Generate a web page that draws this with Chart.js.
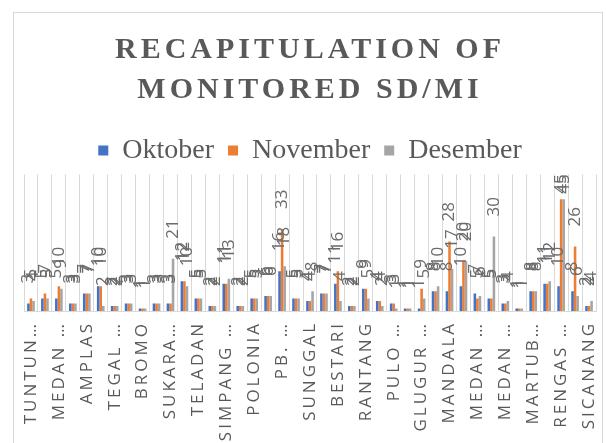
<html>

<head>
    <title>Recapitulation of monitored SD/MI</title>
    <script src="https://cdnjs.cloudflare.com/ajax/libs/Chart.js/4.4.1/chart.umd.min.js"></script>
    <style>
        body { margin: 0; overflow: hidden; background: #fff; }
        #frame { position: absolute; left: 13px; top: 12px; width: 588px; height: 480px; border: 1px solid #d9d9d9; }
        #chart { position: absolute; left: 0; top: 0; }
    </style>
</head>

<body>
    <div id="frame"></div>
    <canvas id="chart" width="606" height="443"></canvas>
    <script>
        // puskesmas names (only every other one is shown on the axis)
        const puskesmas = [
            "TUNTUNGAN", "SIMALINGKAR", "MEDAN JOHOR", "KEDAI DURIAN", "AMPLAS",
            "DESA BINJAI", "TEGAL SARI", "MEDAN DENAI", "BROMO", "KOTA MATSUM",
            "SUKARAMAI", "AREA SELATAN", "TELADAN", "PASAR MERAH", "SIMPANG LIMUN",
            "SUKARAJA", "POLONIA", "PADANG BULAN", "PB. SELAYANG", "DESA LALANG",
            "SUNGGAL", "HELVETIA", "BESTARI", "DARUSSALAM", "RANTANG",
            "PETISAH", "PULO BRAYAN", "SEI AGUL", "GLUGUR DARAT", "SENTOSA BARU",
            "MANDALA", "TEMBUNG", "MEDAN DELI", "TITI PAPAN", "MEDAN LABUHAN",
            "PEKAN LABUHAN", "MARTUBUNG", "TERJUN", "RENGAS PULAU", "BELAWAN",
            "SICANANG"
        ];
        const oktober  = [3, 5, 5, 3, 7, 10, 2, 3, 1, 3, 3, 12, 5, 2, 11, 2, 5, 6, 16, 5, 4, 7, 11, 2, 9, 4, 3, 1, 1, 8, 8, 10, 7, 5, 3, 1, 8, 11, 10, 8, 2];
        const november = [5, 7, 10, 3, 7, 10, 2, 3, 1, 3, 3, 12, 5, 2, 11, 2, 5, 6, 33, 5, 4, 7, 16, 2, 9, 4, 3, 1, 9, 8, 28, 20, 5, 5, 3, 1, 8, 11, 45, 26, 2];
        const desember = [4, 5, 9, 3, 7, 2, 2, 3, 1, 3, 21, 10, 5, 2, 13, 2, 5, 6, 18, 5, 8, 7, 4, 2, 5, 2, 1, 1, 5, 10, 17, 20, 6, 30, 4, 1, 8, 12, 45, 6, 4];
        const titleLines = ["RECAPITULATION OF", "MONITORED SD/MI"];

        const grey = '#595959';
        const serif = '"Liberation Serif", "Times New Roman", Times, serif';
        const sans = '"Open Sans", "Noto Sans", sans-serif';

        // shorten long names the way the axis shows them
        function shortName(name) {
            if (name.length <= 8) return name;
            if (name.indexOf(' ') > 0) return name.split(' ')[0] + ' \u2026';
            return name.slice(0, 6) + '\u2026';
        }

        function withSpacing(obj, method, px) {
            const orig = obj[method];
            obj[method] = function () {
                const ctx = this.ctx;
                const old = ctx.letterSpacing;
                ctx.letterSpacing = px;
                const r = orig.apply(this, arguments);
                ctx.letterSpacing = old;
                return r;
            };
        }

        const spacingPlugin = {
            id: 'spacing',
            afterLayout(chart) {
                if (chart._spaced) return;
                chart._spaced = true;
                withSpacing(chart.titleBlock, 'draw', '4px');
                withSpacing(chart.scales.x, 'drawLabels', '3px');
            }
        };

        // rotated value labels above the bars
        const valueLabels = {
            id: 'valueLabels',
            afterDatasetsDraw(chart) {
                const ctx = chart.ctx;
                ctx.save();
                ctx.font = '17px ' + sans;
                ctx.fillStyle = '#6b6b6b';
                ctx.textAlign = 'left';
                ctx.textBaseline = 'middle';
                chart.data.datasets.forEach(function (ds, i) {
                    chart.getDatasetMeta(i).data.forEach(function (bar, j) {
                        const txt = String(ds.data[j]);
                        const w = ctx.measureText(txt).width;
                        let y = bar.y - 20;
                        if (y - w < chart.chartArea.top) y = chart.chartArea.top + w;
                        ctx.save();
                        ctx.translate(bar.x, y);
                        ctx.rotate(-Math.PI / 2);
                        ctx.fillText(txt, 0, 0);
                        ctx.restore();
                    });
                });
                ctx.restore();
            }
        };

        function draw() {
            let ctx = document.getElementById('chart').getContext('2d');
            new Chart(ctx, {
                type: 'bar',
                data: {
                    labels: puskesmas,
                    datasets: [{
                        label: "Oktober",
                        backgroundColor: '#4472C4',
                        data: oktober
                    }, {
                        label: "November",
                        backgroundColor: '#ED7D31',
                        data: november
                    }, {
                        label: "Desember",
                        backgroundColor: '#A5A5A5',
                        data: desember
                    }]
                },
                options: {
                    animation: false,
                    responsive: false,
                    events: [],
                    layout: {
                        padding: { left: 24, right: 10, top: 0, bottom: 0 }
                    },
                    datasets: {
                        bar: {
                            categoryPercentage: 0.55,
                            barPercentage: 1.0
                        }
                    },
                    scales: {
                        x: {
                            grid: {
                                color: '#d9d9d9',
                                offset: true,
                                drawTicks: false
                            },
                            border: { color: '#d9d9d9' },
                            ticks: {
                                autoSkip: false,
                                maxRotation: 90,
                                minRotation: 90,
                                padding: 10,
                                color: grey,
                                font: { family: sans, size: 17 },
                                callback: function (value, index) {
                                    if (index % 2 === 1) return '';
                                    return shortName(this.getLabelForValue(value));
                                }
                            },
                            afterFit: function (scale) {
                                scale.height = 132;
                                scale.paddingLeft = 0;
                                scale.paddingRight = 0;
                            }
                        },
                        y: {
                            display: false,
                            min: 0,
                            max: 55
                        }
                    },
                    plugins: {
                        title: {
                            display: true,
                            text: titleLines,
                            color: grey,
                            font: { family: serif, size: 30, weight: 'bold', lineHeight: 1.34 },
                            padding: { top: 30, bottom: 12 }
                        },
                        legend: {
                            labels: {
                                color: grey,
                                boxWidth: 10,
                                boxHeight: 10,
                                padding: 14,
                                font: { family: serif, size: 28 }
                            }
                        },
                        tooltip: { enabled: false }
                    }
                },
                plugins: [spacingPlugin, valueLabels]
            });
        }

        Promise.all([
            document.fonts.load('bold 30px "Liberation Serif"'),
            document.fonts.load('28px "Liberation Serif"'),
            document.fonts.load('17px "Open Sans"')
        ]).then(draw, draw);
    </script>
</body>

</html>
